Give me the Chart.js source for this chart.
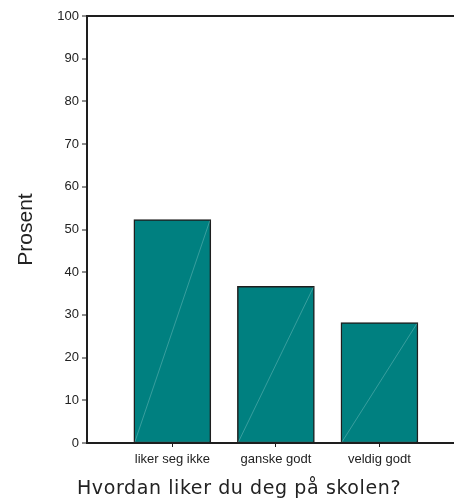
<!DOCTYPE html>
<html>
<head>
<meta charset="utf-8">
<script src="https://cdn.jsdelivr.net/npm/chart.js@4/dist/chart.umd.min.js"></script>
<style>
  html, body { margin: 0; padding: 0; background: #fff; }
  #wrap { width: 454px; height: 501px; position: relative; }
</style>
</head>
<body>
<div id="wrap"><canvas id="chart"></canvas></div>
<script>
/* ===== Data ===== */
const categories = ['liker seg ikke', 'ganske godt', 'veldig godt'];
const percent = [52.3, 36.7, 28.2];
const yTicks = [0, 10, 20, 30, 40, 50, 60, 70, 80, 90, 100];
const yTitle = 'Prosent';
const xTitle = 'Hvordan liker du deg på skolen?';

const INK = '#1e1e1e';

// faint diagonal stroke inside each bar, like the original export
const diagonalPlugin = {
  id: 'diagonal',
  afterDatasetsDraw(chart) {
    const ctx = chart.ctx;
    chart.getDatasetMeta(0).data.forEach(bar => {
      const p = bar.getProps(['x', 'y', 'base', 'width'], true);
      const half = p.width / 2 - 1;
      ctx.save();
      ctx.strokeStyle = 'rgba(200,235,235,0.4)';
      ctx.lineWidth = 0.7;
      ctx.beginPath();
      ctx.moveTo(p.x - half, p.base - 1);
      ctx.lineTo(p.x + half, p.y + 1);
      ctx.stroke();
      ctx.restore();
    });
  }
};

// x title sits left of the plot centre, so draw it ourselves
const xTitlePlugin = {
  id: 'xTitle',
  afterDraw(chart) {
    const ctx = chart.ctx;
    ctx.save();
    ctx.font = '19px "DejaVu Sans"';
    ctx.letterSpacing = '0.6px';
    ctx.fillStyle = '#222';
    ctx.textAlign = 'center';
    ctx.textBaseline = 'middle';
    ctx.fillText(xTitle, 239, 489);
    ctx.restore();
  }
};

new Chart(document.getElementById('chart'), {
  type: 'bar',
  data: {
    datasets: [{
      data: percent.map((v, i) => ({ x: i, y: v })),
      backgroundColor: '#008080',
      borderColor: INK,
      borderWidth: 1.5,
      borderSkipped: false,
      barThickness: 77,
    }],
  },
  plugins: [diagonalPlugin, xTitlePlugin],
  options: {
    responsive: true,
    maintainAspectRatio: false,
    animation: false,
    layout: { padding: { top: 16, right: 0, left: 0, bottom: 0 } },
    plugins: { legend: { display: false }, tooltip: { enabled: false } },
    scales: {
      x: {
        type: 'linear',
        offset: false,
        min: -0.824,
        max: 2.72,
        afterBuildTicks: s => { s.ticks = categories.map((c, i) => ({ value: i })); },
        afterFit: s => { s.height = 58; },
        ticks: {
          callback: v => categories[v],
          font: { family: '"Liberation Sans", Arial', size: 13 },
          color: '#222',
          padding: 5,
          maxRotation: 0,
          autoSkip: false,
        },
        grid: { offset: false, drawOnChartArea: false, drawTicks: true, tickLength: 4, tickColor: INK, tickWidth: 1 },
        border: { color: INK, width: 2 },
      },
      y: {
        min: 0,
        max: 100,
        afterBuildTicks: s => { s.ticks = yTicks.map(v => ({ value: v })); },
        afterFit: s => { s.width = 87; },
        ticks: {
          font: { family: '"Liberation Sans", Arial', size: 13 },
          color: '#222',
          padding: 3,
        },
        grid: {
          color: c => (c.tick && c.tick.value === 100 ? INK : 'rgba(0,0,0,0)'),
          lineWidth: c => (c.tick && c.tick.value === 100 ? 2 : 0),
          tickColor: INK,
          tickWidth: 1,
          tickLength: 5,
        },
        border: { color: INK, width: 2 },
        title: {
          display: true,
          text: yTitle,
          font: { family: '"Liberation Sans", Arial', size: 21 },
          color: '#222',
          padding: { top: 14, bottom: 0 },
        },
      },
    },
  },
});
</script>
</body>
</html>
